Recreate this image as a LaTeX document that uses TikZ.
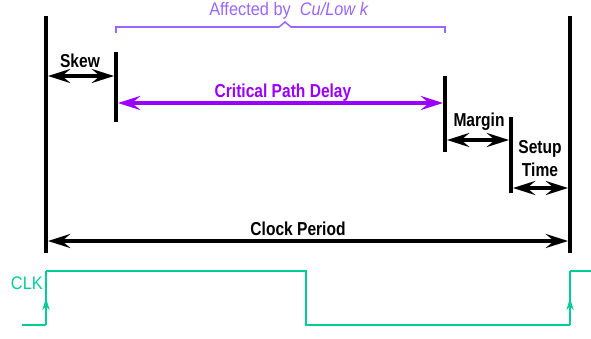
\documentclass[tikz,border=0pt]{standalone}
\usepackage{fontspec}
\setmainfont{Liberation Sans}[FakeStretch=0.9]
\newfontfamily\lblfont{Liberation Sans Bold}[FakeStretch=0.83]
\usetikzlibrary{arrows.meta,decorations.markings,positioning}

\definecolor{pathpurple}{HTML}{9900FF}
\definecolor{bracepurple}{HTML}{9966FF}
\definecolor{clkgreen}{HTML}{00CC99}

\def\barw{3.4pt}

\begin{document}
\begin{tikzpicture}[x=0.03cm,y=-0.03cm,
	font=\fontsize{15.5}{19.6}\selectfont,
	every edge/.append style={nodes={inner sep=2pt}}]
    \tikzstyle{bar}=[line width=\barw,draw=black]
    \tikzstyle{dim}=[line width=\barw,draw=black,
        {Stealth[length=19pt,width=12pt,inset=7pt]}-{Stealth[length=19pt,width=12pt,inset=7pt]},
        shorten <=1.7pt,shorten >=1.7pt]
    \tikzstyle{clk}=[line width=1.7pt,draw=clkgreen]
    \tikzstyle{clk edge}=[clk,postaction={decorate},decoration={markings,
        mark=at position 0.5 with {\arrow[clkgreen]{Stealth[length=10pt,width=6pt,inset=3pt]}}}]
    \tikzstyle{annot}=[inner sep=0pt,align=center]
    \tikzstyle{lbl}=[annot,font=\lblfont\fontsize{16}{19.6}\selectfont]

    \useasboundingbox (0,0) rectangle (591,339);

    % Draw the bars
    \coordinate (L-top) at (46,16);   \coordinate (L-bot) at (46,253);
    \coordinate (R-top) at (570,16);  \coordinate (R-bot) at (570,253);
    \coordinate (S-top) at (116,52);  \coordinate (S-bot) at (116,122);
    \coordinate (C-top) at (445,76);  \coordinate (C-bot) at (445,152);
    \coordinate (M-top) at (511,117); \coordinate (M-bot) at (511,193);
    \foreach \name in {L,R,S,C,M}
        \draw[bar] (\name-top) -- (\name-bot);

    % Ends of the dimension arrows
    \coordinate (skew-a) at (46,76);    \coordinate (skew-b) at (116,76);
    \coordinate (crit-a) at (116,103);  \coordinate (crit-b) at (445,103);
    \coordinate (marg-a) at (445,140);  \coordinate (marg-b) at (511,140);
    \coordinate (setup-a) at (511,188); \coordinate (setup-b) at (570,188);
    \coordinate (per-a) at (46,241);    \coordinate (per-b) at (570,241);

    % Draw the dimension arrows
    \path (skew-a) edge[dim] (skew-b);
    \path (crit-a) edge[dim,draw=pathpurple] (crit-b);
    \path (marg-a) edge[dim] (marg-b);
    \path (setup-a) edge[dim] (setup-b);
    \path (per-a) edge[dim] (per-b);

    % Labels
    \node[lbl] (skew) at (80,61) {Skew};
    \node[lbl,text=pathpurple] (crit) at (283,93) {Critical Path Delay};
    \node[lbl] (marg) at (479,122) {Margin};
    \node[lbl] (setup) at (540,159) {Setup\\Time};
    \node[lbl] (per) at (298,229) {Clock Period};

    % Brace over the affected part
    \coordinate (B-1) at (116,33);
    \coordinate (B-2) at (116,27);
    \coordinate (B-tip) at (285,22);
    \coordinate (B-3) at (445,27);
    \coordinate (B-4) at (445,33);
    \draw[bracepurple,line width=1.3pt] (B-1) -- (B-2) -- (279,27) -- (B-tip)
        -- (291,27) -- (B-3) -- (B-4);
    \node[annot,text=bracepurple] (aff) at (289,11) {Affected by\ \ \textit{Cu/Low k}};

    % Draw the clock
    \coordinate (K-0) at (22,325);
    \coordinate (K-1) at (46,325);
    \coordinate (K-2) at (46,271);
    \coordinate (K-3) at (306,271);
    \coordinate (K-4) at (306,325);
    \coordinate (K-5) at (570,325);
    \coordinate (K-6) at (570,271);
    \coordinate (K-7) at (591,271);
    \draw[clk] (K-0) -- (K-1);
    \draw[clk edge] (K-1) -- (K-2);
    \draw[clk] (K-2) -- (K-3) -- (K-4) -- (K-5);
    \draw[clk edge] (K-5) -- (K-6);
    \draw[clk] (K-6) -- (K-7);
    \node[annot,text=clkgreen,anchor=east] (clk) at (43,283) {CLK};
\end{tikzpicture}
\end{document}
